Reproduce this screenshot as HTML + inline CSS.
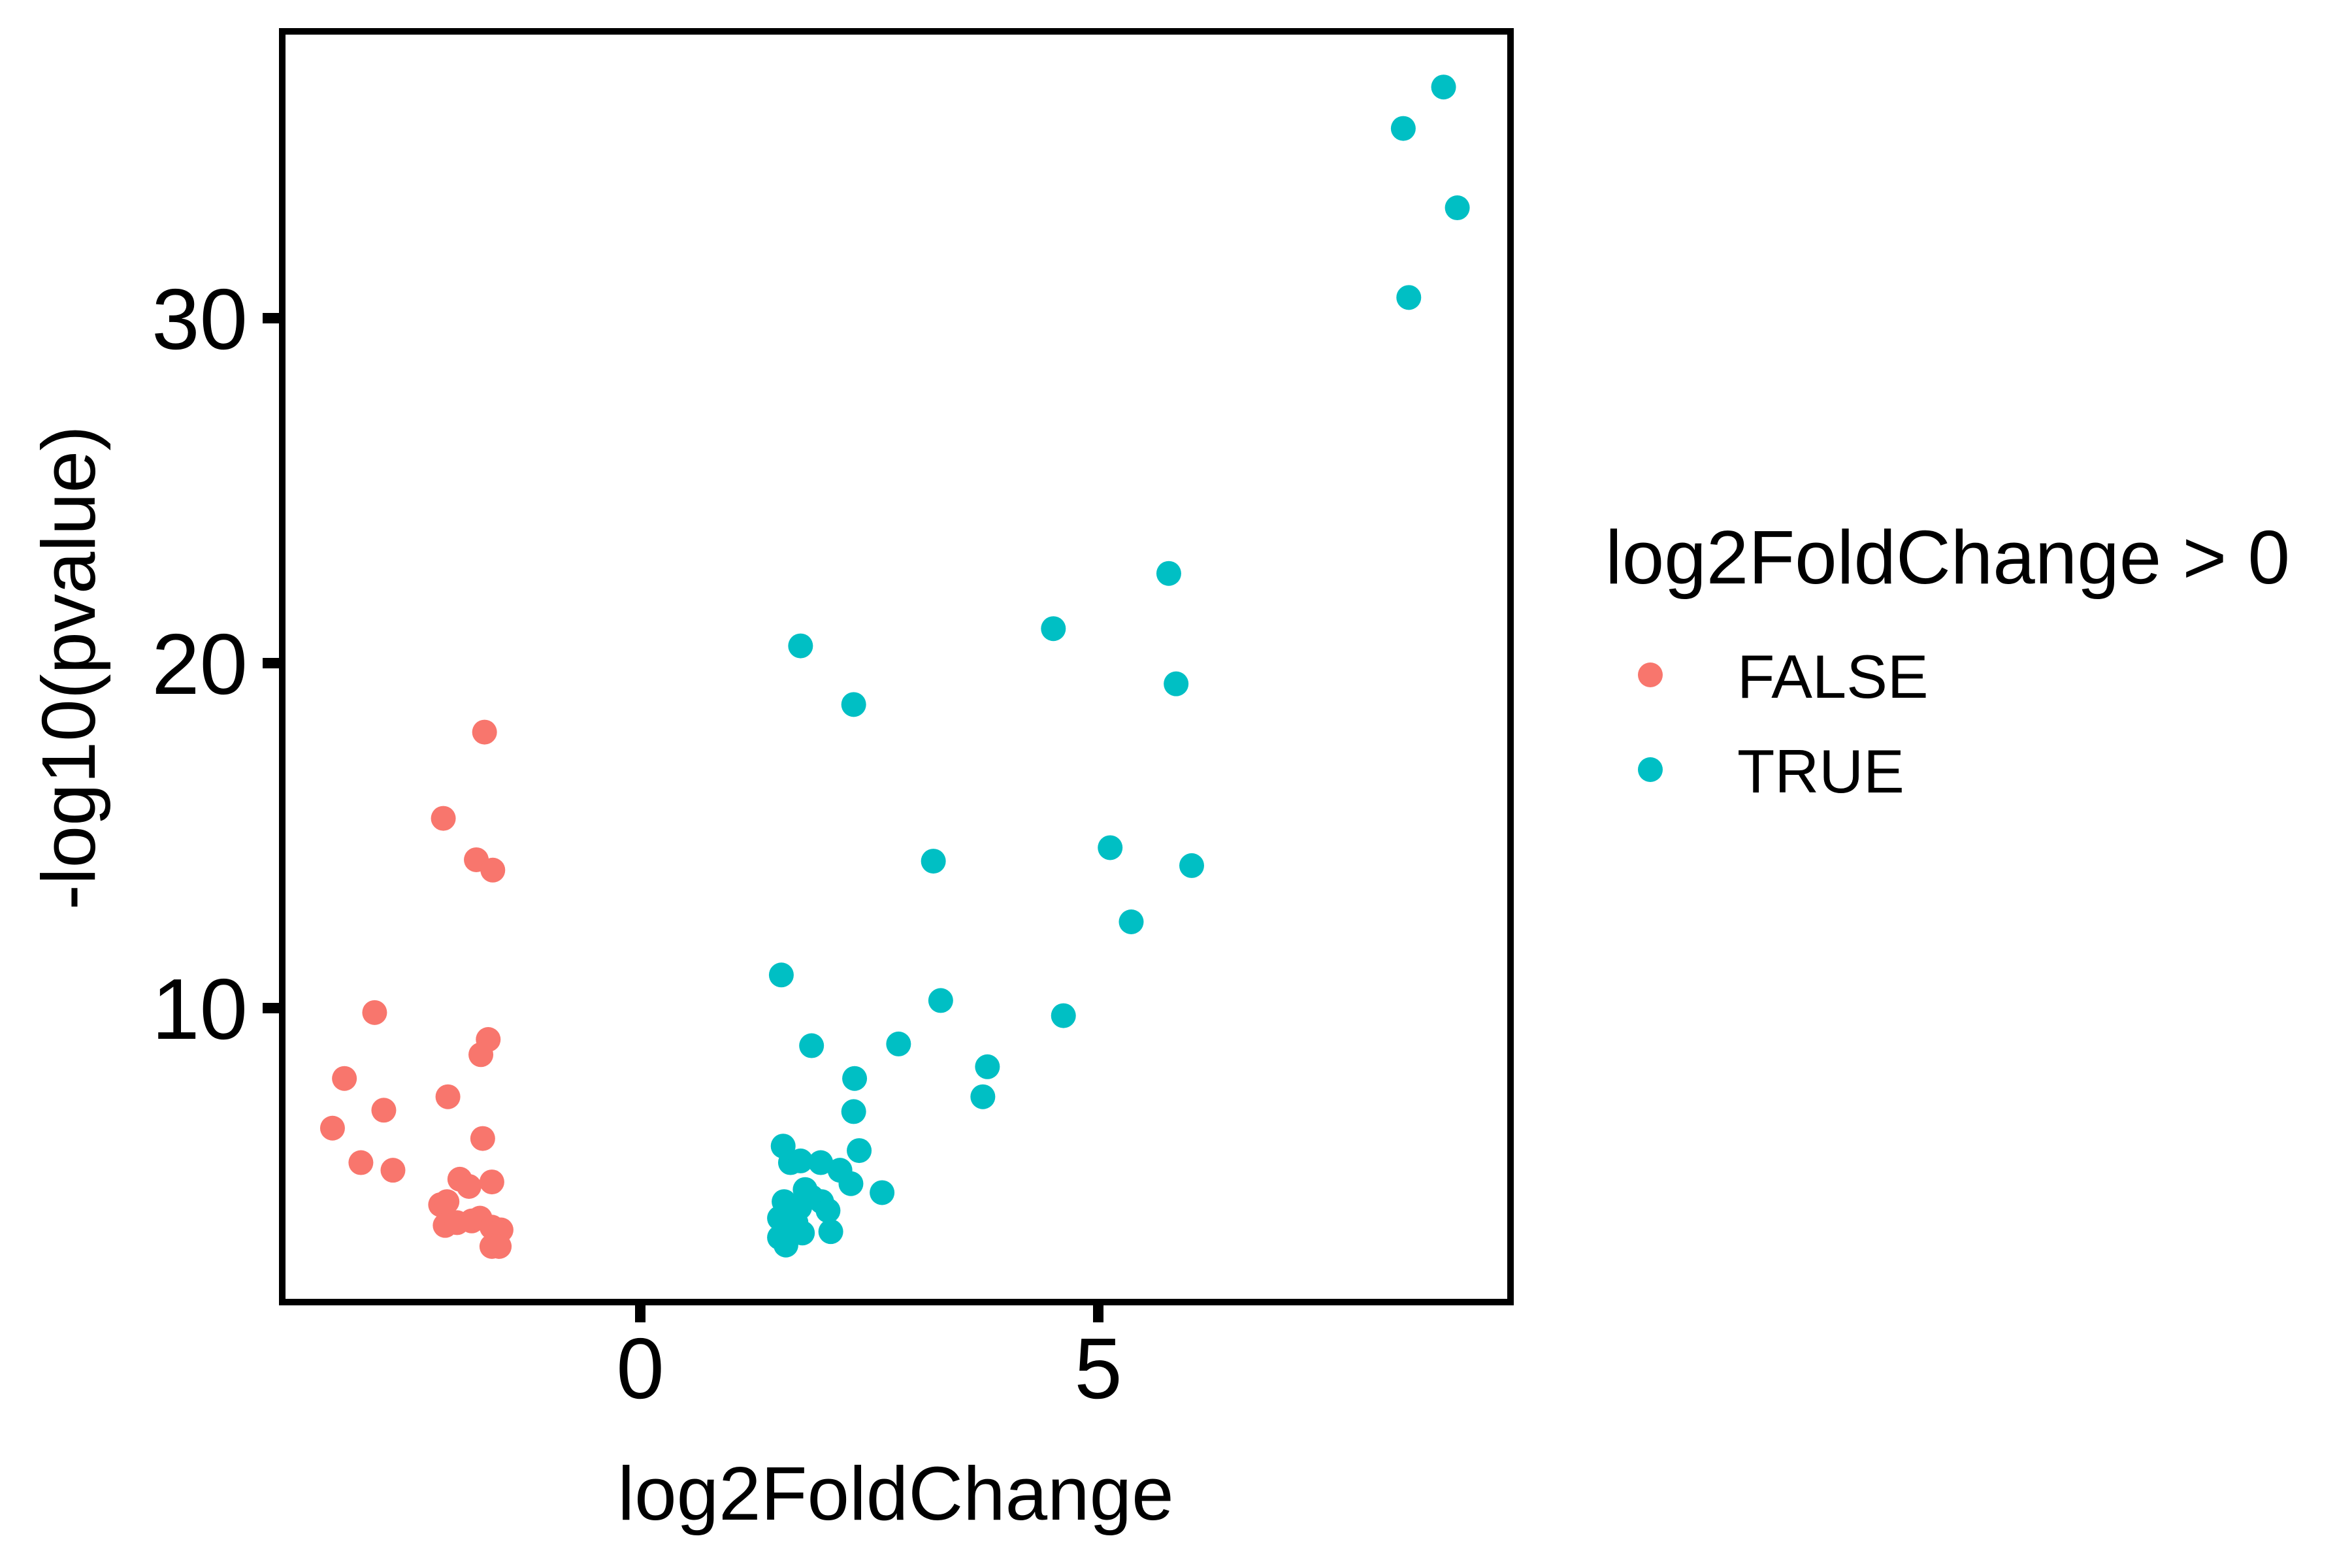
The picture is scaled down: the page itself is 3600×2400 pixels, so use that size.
<!DOCTYPE html>
<html><head><meta charset="utf-8"><style>
html,body{margin:0;padding:0;background:#fff}
svg{display:block;font-family:"Liberation Sans",Arial,sans-serif}
</style></head><body>
<svg id="chart" width="3600" height="2400" viewBox="0 0 3600 2400" xmlns="http://www.w3.org/2000/svg">
<rect width="3600" height="2400" fill="#fff"/>
<g id="points"></g>
<rect x="432" y="48" width="1880" height="1945" fill="none" stroke="#000" stroke-width="10"/>
<g id="axes"></g>
<text x="1371" y="2326" font-size="116" text-anchor="middle">log2FoldChange</text>
<text transform="translate(145,1022) rotate(-90)" font-size="116" text-anchor="middle">-log10(pvalue)</text>
<text x="2457" y="893" font-size="116">log2FoldChange &gt; 0</text>
<circle cx="2526" cy="1033" r="19" fill="#F8766D"/>
<text x="2659" y="1068" font-size="94">FALSE</text>
<circle cx="2526" cy="1178" r="19" fill="#00BFC4"/>
<text x="2659" y="1213" font-size="94">TRUE</text>
</svg>
<script>
const falseX=[-1.70,-2.15,-1.79,-1.61,-2.90,-3.23,-2.80,-3.36,-3.05,-2.70,-2.10,-1.66,-1.74,-1.72,-1.97,-1.87,-1.62,-2.18,-2.11,-2.13,-2.00,-1.84,-1.75,-1.62,-1.52,-1.62,-1.54];
const falseY=[18.0,15.5,14.3,14.0,9.87,7.96,7.04,6.52,5.52,5.30,7.43,9.09,8.65,6.22,5.04,4.83,4.96,4.30,4.39,3.70,3.78,3.83,3.91,3.65,3.57,3.09,3.09];
const trueX=[8.77,8.33,8.92,8.39,5.77,4.51,1.75,5.85,2.33,5.13,3.20,6.02,5.36,1.54,3.28,4.62,2.82,1.87,3.79,2.34,3.74,2.33,1.56,2.39,1.64,1.75,1.97,2.18,2.30,2.64,1.80,1.87,1.98,1.57,1.74,1.61,1.52,1.70,2.05,1.52,1.77,2.08,1.59,1.67];
const trueY=[36.7,35.5,33.2,30.6,22.6,21.0,20.5,19.4,18.8,14.65,14.26,14.13,12.5,10.96,10.22,9.78,8.96,8.91,8.30,7.96,7.43,7.0,6.0,5.87,5.52,5.57,5.52,5.30,4.91,4.65,4.74,4.52,4.39,4.39,4.22,4.0,3.91,3.78,4.13,3.35,3.48,3.52,3.13,3.74];
const xTicks=[0,5];
const yTicks=[10,20,30];
const NS="http://www.w3.org/2000/svg";
function sx(v){return 980+v*140.2;}
function sy(v){return 1543-(v-10)*52.8;}
const pg=document.getElementById('points');
function addPts(xs,ys,col,name){
  for(let i=0;i<xs.length;i++){
    const c=document.createElementNS(NS,'circle');
    c.setAttribute('cx',sx(xs[i]));c.setAttribute('cy',sy(ys[i]));
    c.setAttribute('r',19);c.setAttribute('fill',col);
    
    
    pg.appendChild(c);
  }
}
addPts(falseX,falseY,'#F8766D','point-false');
addPts(trueX,trueY,'#00BFC4','point-true');
const ax=document.getElementById('axes');
xTicks.forEach(t=>{
  const l=document.createElementNS(NS,'line');
  l.setAttribute('x1',sx(t));l.setAttribute('x2',sx(t));l.setAttribute('y1',1996);l.setAttribute('y2',2024);
  l.setAttribute('stroke','#000');l.setAttribute('stroke-width',16);
  
  
  ax.appendChild(l);
  const tx=document.createElementNS(NS,'text');
  tx.setAttribute('x',sx(t));tx.setAttribute('y',2140);tx.setAttribute('font-size',132);tx.setAttribute('text-anchor','middle');
  tx.textContent=t;
  
  
  ax.appendChild(tx);
});
yTicks.forEach(t=>{
  const l=document.createElementNS(NS,'line');
  l.setAttribute('x1',402);l.setAttribute('x2',430);l.setAttribute('y1',sy(t));l.setAttribute('y2',sy(t));
  l.setAttribute('stroke','#000');l.setAttribute('stroke-width',16);
  
  
  ax.appendChild(l);
  const tx=document.createElementNS(NS,'text');
  tx.setAttribute('x',379);tx.setAttribute('y',sy(t)+47);tx.setAttribute('font-size',132);tx.setAttribute('text-anchor','end');
  tx.textContent=t;
  
  
  ax.appendChild(tx);
});
</script>
</body></html>
